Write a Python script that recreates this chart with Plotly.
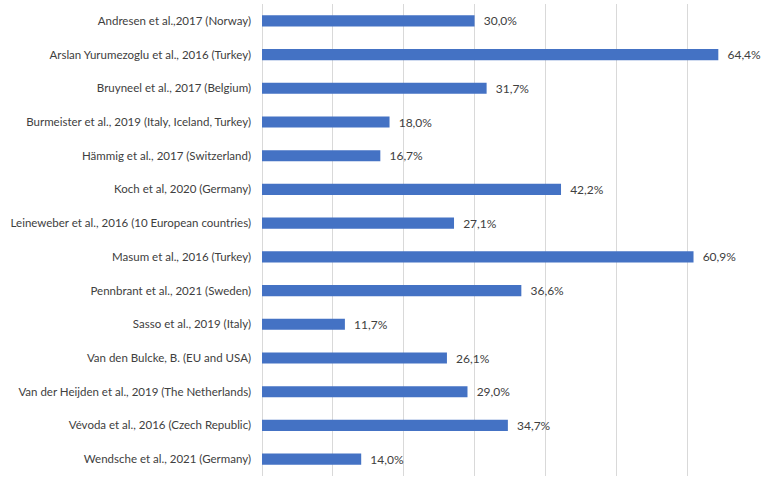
import plotly.graph_objects as go

# Estudos e percentuais
estudos = [
    'Andresen et al.,2017 (Norway)',
    'Arslan Yurumezoglu et al., 2016 (Turkey)',
    'Bruyneel et al., 2017 (Belgium)',
    'Burmeister et al., 2019 (Italy, Iceland, Turkey)',
    'Hämmig et al., 2017 (Switzerland)',
    'Koch et al, 2020 (Germany)',
    'Leineweber et al., 2016 (10 European countries)',
    'Masum et al., 2016 (Turkey)',
    'Pennbrant et al., 2021 (Sweden)',
    'Sasso et al., 2019 (Italy)',
    'Van den Bulcke, B. (EU and USA)',
    'Van der Heijden et al., 2019 (The Netherlands)',
    'Vévoda et al., 2016 (Czech Republic)',
    'Wendsche et al., 2021 (Germany)',
]
percentuais = [30.0, 64.4, 31.7, 18.0, 16.7, 42.2, 27.1, 60.9, 36.6, 11.7, 26.1, 29.0, 34.7, 14.0]

rotulos = ['  ' + f'{v:.1f}%'.replace('.', ',') for v in percentuais]

fig = go.Figure(go.Bar(
    x=percentuais,
    y=estudos,
    orientation='h',
    marker=dict(color='#4472C4', line=dict(color='#4472C4', width=0)),
    text=rotulos,
    textposition='outside',
    constraintext='none',
    cliponaxis=False,
    textfont=dict(size=12, color='#404040'),
))

fig.update_layout(
    width=762,
    height=477,
    margin=dict(l=262, r=4, t=4, b=1),
    paper_bgcolor='white',
    plot_bgcolor='white',
    bargap=0.67,
    showlegend=False,
    font=dict(family='Lato, Open Sans, sans-serif', size=11.5, color='#404040'),
    xaxis=dict(
        range=[0, 70],
        dtick=10,
        showticklabels=False,
        showgrid=True,
        gridcolor='#D9D9D9',
        gridwidth=1,
        zeroline=True,
        zerolinecolor='#D9D9D9',
        zerolinewidth=1,
        automargin=False,
    ),
    yaxis=dict(
        autorange='reversed',
        showgrid=False,
        ticklabelstandoff=10,
        automargin=False,
    ),
)

# tira a margem padrão do <body> para o gráfico ocupar a janela toda
fig.write_html(
    'out.html',
    config={'displayModeBar': False},
    post_script="document.body.style.margin='0';",
)
